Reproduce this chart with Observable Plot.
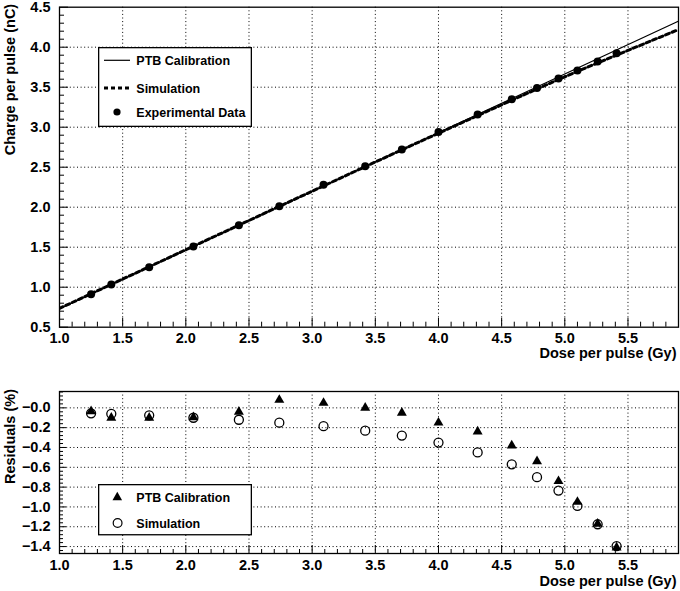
<!DOCTYPE html>
<html>
<head>
<meta charset="utf-8">
<script src="https://cdn.jsdelivr.net/npm/d3@7"></script>
<script src="https://cdn.jsdelivr.net/npm/@observablehq/plot@0.6"></script>
<style>
  body { margin: 0; background: #fff; }
  #wrap { position: relative; width: 680px; height: 591px; font-family: "Liberation Sans", Arial, sans-serif; }
  #wrap > svg, #wrap > div { position: absolute; left: 0; }
</style>
</head>
<body>
<div id="wrap"></div>
<script>
// ---- data ----
const dose = [1.25, 1.41, 1.71, 2.06, 2.42, 2.74, 3.09, 3.42, 3.71, 4.00, 4.31, 4.58, 4.78, 4.95, 5.10, 5.26, 5.41];
const charge = [0.912, 1.034, 1.25, 1.509, 1.775, 2.012, 2.28, 2.512, 2.72, 2.94, 3.16, 3.35, 3.49, 3.61, 3.71, 3.82, 3.925];
const ptbDose = [1.0, 5.9];
const ptbCharge = [0.73, 4.326];
const simDose = [1.0, 2.0, 3.0, 3.5, 4.0, 4.5, 5.0, 5.5, 5.9];
const simCharge = [0.735, 1.468, 2.2, 2.565, 2.925, 3.28, 3.63, 3.96, 4.22];
const residPTB = [-0.035, -0.10, -0.10, -0.095, -0.04, 0.08, 0.05, 0.0, -0.05, -0.15, -0.24, -0.38, -0.54, -0.74, -0.95, -1.17, -1.41];
const residSim = [-0.055, -0.06, -0.075, -0.10, -0.12, -0.15, -0.185, -0.23, -0.28, -0.35, -0.45, -0.57, -0.70, -0.835, -0.99, -1.175, -1.395];

const xMajorTicks = [1.0, 1.5, 2.0, 2.5, 3.0, 3.5, 4.0, 4.5, 5.0, 5.5];
const yTopTicks = [0.5, 1.0, 1.5, 2.0, 2.5, 3.0, 3.5, 4.0, 4.5];
const yResTicks = [-1.4, -1.2, -1.0, -0.8, -0.6, -0.4, -0.2, 0.0];
const legendTop = ["PTB Calibration", "Simulation", "Experimental Data"];
const legendRes = ["PTB Calibration", "Simulation"];
const xTitle = "Dose per pulse (Gy)";
const yTopTitle = "Charge per pulse (nC)";
const yResTitle = "Residuals (%)";

// ---- derived tables ----
const expRows = dose.map((d, i) => ({x: d, y: charge[i]}));
const ptbRows = ptbDose.map((d, i) => ({x: d, y: ptbCharge[i]}));
const simRows = simDose.map((d, i) => ({x: d, y: simCharge[i]}));
const resPtbRows = dose.map((d, i) => ({x: d, y: residPTB[i]}));
const resSimRows = dose.map((d, i) => ({x: d, y: residSim[i]}));

const notMajor = (majors) => (v) => !majors.some(t => Math.abs(t - v) < 1e-9);
const xMinor = d3.range(10, 59).map(i => i / 10).filter(notMajor(xMajorTicks));
const yTopMinor = d3.range(5, 46).map(i => i / 10).filter(notMajor(yTopTicks));
const yResMinor = d3.range(-36, 5).map(i => i * 0.04).filter(notMajor(yResTicks));

const FONT = '"Liberation Sans", Arial, sans-serif';
const fmt1 = d => (d === 0 ? "\u22120.0" : d3.format(".1f")(d));
const gridStyle = {stroke: "#000", strokeOpacity: 1, strokeWidth: 1, strokeDasharray: "1,2.6"};
const TICKFS = 14.5;
const TITLEFS = 14.5;

const wrap = document.getElementById("wrap");

// ---- top panel ----
const topPlot = Plot.plot({
  width: 680, height: 370,
  marginLeft: 59, marginRight: 2, marginTop: 6.7, marginBottom: 43.3,
  style: {fontFamily: FONT, fontSize: "14px", fontWeight: "bold", background: "white", color: "#000", overflow: "visible"},
  x: {domain: [1, 5.9]},
  y: {domain: [0.5, 4.5]},
  marks: [
    Plot.gridX(xMajorTicks.filter(v => v > 1), gridStyle),
    Plot.gridY(yTopTicks.filter(v => v > 0.5 && v < 4.5), gridStyle),
    Plot.line(ptbRows, {x: "x", y: "y", stroke: "#000", strokeWidth: 1.2, clip: true}),
    Plot.line(simRows, {x: "x", y: "y", stroke: "#000", strokeWidth: 3, strokeDasharray: "4,3", curve: "monotone-x", clip: true}),
    Plot.dot(expRows, {x: "x", y: "y", r: 4, fill: "#000"}),
    Plot.axisX(xMinor, {tickSize: -5, tickFormat: () => "", label: null}),
    Plot.axisX(xMajorTicks, {tickSize: -9, tickFormat: () => "", label: null}),
    Plot.axisX(xMajorTicks, {tickSize: 0, tickPadding: 6, tickFormat: fmt1, label: null, fontSize: TICKFS}),
    Plot.axisY(yTopMinor, {tickSize: -5, tickFormat: () => "", label: null}),
    Plot.axisY(yTopTicks, {tickSize: -9, tickFormat: () => "", label: null}),
    Plot.axisY(yTopTicks, {tickSize: 0, tickPadding: 9, tickFormat: fmt1, label: null, fontSize: TICKFS}),
    Plot.text([xTitle], {text: d => d, frameAnchor: "bottom-right", textAnchor: "end", lineAnchor: "middle", dx: -2, dy: 26, fontSize: TITLEFS}),
    Plot.text([yTopTitle], {text: d => d, frameAnchor: "top-left", rotate: -90, textAnchor: "end", lineAnchor: "middle", dx: -49.5, dy: -3.4, fontSize: TITLEFS}),
    Plot.frame({stroke: "#000", strokeWidth: 1.3})
  ]
});
topPlot.style.top = "0px";
wrap.appendChild(topPlot);

// ---- residual panel ----
const resPlot = Plot.plot({
  width: 680, height: 221,
  marginLeft: 59, marginRight: 2, marginTop: 21, marginBottom: 38,
  style: {fontFamily: FONT, fontSize: "14px", fontWeight: "bold", background: "white", color: "#000", overflow: "visible"},
  x: {domain: [1, 5.9]},
  y: {domain: [-1.47, 0.165]},
  marks: [
    Plot.gridX(xMajorTicks.filter(v => v > 1), gridStyle),
    Plot.gridY(yResTicks, gridStyle),
    Plot.dot(resPtbRows, {x: "x", y: "y", r: 3.7, symbol: "triangle", fill: "#000"}),
    Plot.dot(resSimRows, {x: "x", y: "y", r: 4.5, symbol: "circle", fill: "none", stroke: "#000", strokeWidth: 1.3}),
    Plot.axisX(xMinor, {tickSize: -4, tickFormat: () => "", label: null}),
    Plot.axisX(xMajorTicks, {tickSize: -8, tickFormat: () => "", label: null}),
    Plot.axisX(xMajorTicks, {tickSize: 0, tickPadding: 6, tickFormat: fmt1, label: null, fontSize: TICKFS}),
    Plot.axisY(yResMinor, {tickSize: -4, tickFormat: () => "", label: null}),
    Plot.axisY(yResTicks, {tickSize: -7, tickFormat: () => "", label: null}),
    Plot.axisY(yResTicks, {tickSize: 0, tickPadding: 9, tickFormat: fmt1, label: null, fontSize: TICKFS}),
    Plot.text([xTitle], {text: d => d, frameAnchor: "bottom-right", textAnchor: "end", lineAnchor: "middle", dx: -2, dy: 28, fontSize: TITLEFS}),
    Plot.text([yResTitle], {text: d => d, frameAnchor: "top-left", rotate: -90, textAnchor: "end", lineAnchor: "middle", dx: -49.5, dy: -2.5, fontSize: TITLEFS}),
    Plot.frame({stroke: "#000", strokeWidth: 1.3})
  ]
});
resPlot.style.top = "370px";
wrap.appendChild(resPlot);

// ---- legends (overlay boxes) ----
function legendBox(left, top, w, h, entries) {
  const svg = d3.create("svg").attr("width", w).attr("height", h)
    .style("position", "absolute").style("left", left + "px").style("top", top + "px");
  svg.append("rect").attr("x", 0.65).attr("y", 0.65).attr("width", w - 1.3).attr("height", h - 1.3)
    .attr("fill", "#fff").attr("stroke", "#000").attr("stroke-width", 1.3);
  entries.forEach(e => {
    if (e.kind === "line") {
      svg.append("line").attr("x1", 6).attr("x2", 32).attr("y1", e.y).attr("y2", e.y)
        .attr("stroke", "#000").attr("stroke-width", e.w).attr("stroke-dasharray", e.dash || null);
    } else if (e.kind === "dot") {
      svg.append("circle").attr("cx", 19).attr("cy", e.y).attr("r", 3.6).attr("fill", "#000");
    } else if (e.kind === "tri") {
      svg.append("path").attr("d", d3.symbol(d3.symbolTriangle, 40)()).attr("transform", `translate(19.3,${e.y})`).attr("fill", "#000");
    } else if (e.kind === "circ") {
      svg.append("circle").attr("cx", 19.6).attr("cy", e.y).attr("r", 4.4).attr("fill", "none").attr("stroke", "#000").attr("stroke-width", 1.2);
    }
    svg.append("text").attr("x", 38.3).attr("y", e.y).attr("dy", "0.36em")
      .attr("font-family", FONT).attr("font-size", 12.5).attr("font-weight", "bold").text(e.label);
  });
  wrap.appendChild(svg.node());
}
legendBox(97.7, 46.7, 154, 80, [
  {kind: "line", y: 13.3, w: 1.2, label: legendTop[0]},
  {kind: "line", y: 41, w: 3, dash: "4,3", label: legendTop[1]},
  {kind: "dot", y: 65, label: legendTop[2]}
]);
legendBox(97.7, 484.3, 154, 51.4, [
  {kind: "tri", y: 13.4, label: legendRes[0]},
  {kind: "circ", y: 39, label: legendRes[1]}
]);
</script>
</body>
</html>
